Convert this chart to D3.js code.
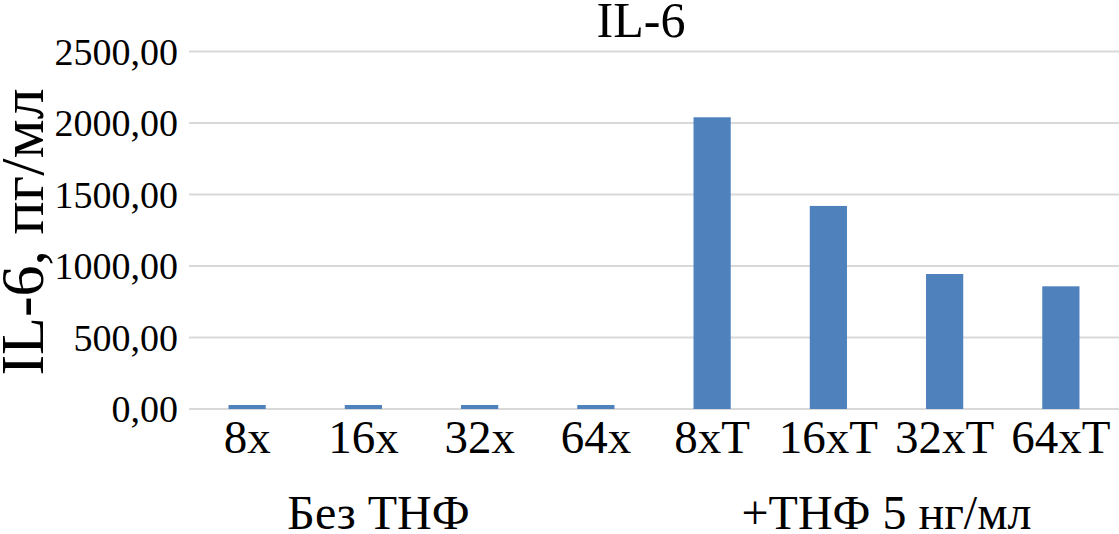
<!DOCTYPE html>
<html><head><meta charset="utf-8">
<script src="https://cdn.jsdelivr.net/npm/d3@7"></script>
<style>body{margin:0;background:#fff}svg{display:block}text{font-family:"Liberation Serif","Times New Roman",serif;fill:#000}</style>
</head><body>
<svg id="c" width="1119" height="534"></svg>
<script>
const categories = ["8x","16x","32x","64x","8xT","16xT","32xT","64xT"];
const values = [28, 28, 28, 28, 2040, 1420, 944, 858];
const yTicks = [0, 500, 1000, 1500, 2000, 2500];
const groupLabels = ["Без ТНФ", "+ТНФ 5 нг/мл"];
const title = "IL-6";
const yTitle = "IL-6, пг/мл";

const svg = d3.select("#c");
const M = {left:189, right:1119, top:51.5, bottom:409};
const x = d3.scaleBand().domain(categories).range([M.left, M.right]).paddingInner(0.68).paddingOuter(0.34);
const y = d3.scaleLinear().domain([0,2500]).range([M.bottom, M.top]);
const fmt = v => d3.format(".2f")(v).replace(".", ",");

// gridlines
svg.append("g").selectAll("line").data(yTicks).join("line")
  .attr("x1", M.left).attr("x2", M.right)
  .attr("y1", d=>y(d)).attr("y2", d=>y(d))
  .attr("stroke", "#d9d9d9").attr("stroke-width", 2);

// y tick labels
svg.append("g").selectAll("text").data(yTicks).join("text")
  .attr("x", 178).attr("y", d=>y(d)).attr("dy", "0.35em")
  .attr("text-anchor", "end").attr("font-size", 38).text(fmt);

// bars
svg.append("g").selectAll("rect").data(values).join("rect")
  .attr("x", (d,i)=>x(categories[i])).attr("width", x.bandwidth())
  .attr("y", d=>y(d)).attr("height", d=>y(0)-y(d))
  .attr("fill", "#4f81bd");

// x labels
svg.append("g").selectAll("text").data(categories).join("text")
  .attr("x", d=>x(d)+x.bandwidth()/2).attr("y", 453)
  .attr("text-anchor", "middle").attr("font-size", 47).text(d=>d);

// group labels
const g1 = (x("8x") + x("64x") + x.bandwidth())/2 - 43;
const g2 = (x("8xT") + x("64xT") + x.bandwidth())/2;
svg.append("g").selectAll("text").data(groupLabels).join("text")
  .attr("x", (d,i)=> i===0 ? g1 : g2).attr("y", 529)
  .attr("text-anchor", "middle").attr("font-size", 48).text(d=>d);

// title
svg.append("text").attr("x", 641).attr("y", 37).attr("text-anchor","middle")
  .attr("font-size", 50).text(title);

// y axis title
svg.append("text").attr("transform", "translate(43,232) rotate(-90)")
  .attr("text-anchor","middle").attr("font-size", 62).text(yTitle);
</script>
</body></html>
